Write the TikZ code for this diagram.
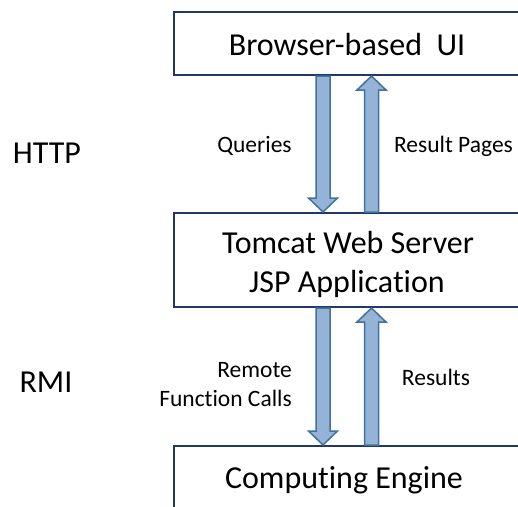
\documentclass[tikz,border=0pt]{standalone}
\usepackage{fontspec}
\setmainfont{Carlito}[Ligatures=NoCommon]
\usetikzlibrary{calc}
\definecolor{navy}{HTML}{1F3864}
\definecolor{arrowfill}{HTML}{95B3D7}
\definecolor{arrowline}{HTML}{41719C}
\tikzset{
  box/.style={draw=navy, line width=2pt, fill=white, inner sep=0pt},
  big/.style={font=\fontsize{32}{39}\selectfont, inner sep=0pt, anchor=base},
  small/.style={font=\fontsize{23.5}{29}\selectfont, inner sep=0pt, anchor=base},
  barrow/.style={draw=arrowline, fill=arrowfill, line width=1.5pt, line join=miter},
}
\newcommand{\blockarrow}[2]{%
  \draw[barrow] let \p1=(#1), \p2=(#2), \p3=($(#2)!14pt!(#1)$) in
    (\x1-7pt,\y1) -- (\x1-7pt,\y3) -- (\x1-14.5pt,\y3) -- (\x2,\y2)
    -- (\x1+14.5pt,\y3) -- (\x1+7pt,\y3) -- (\x1+7pt,\y1) -- cycle;}
\begin{document}
\begin{tikzpicture}[x=1pt, y=-1pt]
  \useasboundingbox (0,0) rectangle (518,506);
  \clip (0,0) rectangle (518,506);
  \fill[white] (0,0) rectangle (518,506);
  % boxes
  \node[box, minimum width=346pt, minimum height=63pt] (ui) at (347,43.5) {};
  \node[box, minimum width=346pt, minimum height=94pt] (web) at (347,260) {};
  \node[box, minimum width=346pt, minimum height=64pt] (eng) at (347,478) {};
  % box texts
  \node[big] (uit) at (347,55) {Browser-based\ \ UI};
  \node[big] (webt1) at (348,253) {Tomcat Web Server};
  \node[big] (webt2) at (347,292) {JSP Application};
  \node[big] (engt) at (344,488) {Computing Engine};
  % protocol labels
  \node[big] (http) at (47,163) {HTTP};
  \node[big] (rmi) at (46,392) {RMI};
  % arrow labels
  \node[small] (queries) at (254.5,152) {Queries};
  \node[small] (respages) at (453.5,152) {Result Pages};
  \node[small, anchor=base east] (remote) at (292,377) {Remote};
  \node[small, anchor=base east] (fcalls) at (292,406) {Function Calls};
  \node[small] (results) at (436,385) {Results};
  % arrows
  \coordinate (dx) at (323,0);
  \coordinate (ux) at (371.5,0);
  \blockarrow{ui.south -| dx}{web.north -| dx}
  \blockarrow{web.north -| ux}{ui.south -| ux}
  \blockarrow{web.south -| dx}{eng.north -| dx}
  \blockarrow{eng.north -| ux}{web.south -| ux}
\end{tikzpicture}
\end{document}
